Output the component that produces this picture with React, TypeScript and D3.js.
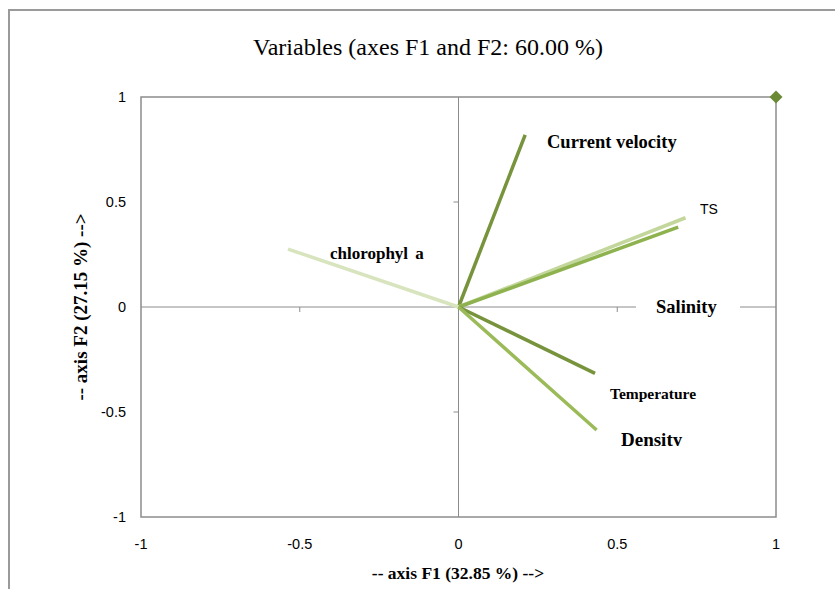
import React, { useRef, useEffect } from "react";
import * as d3 from "d3";

// loadings on F1 / F2
const variables = ["Current velocity", "TS", "Salinity", "chlorophyl a", "Temperature", "Density"];
const f1 = [0.21, 0.715, 0.692, -0.537, 0.43, 0.435];
const f2 = [0.82, 0.425, 0.38, 0.276, -0.316, -0.586];
const colors = ["#77933C", "#C3D69B", "#8DB24E", "#D7E4BD", "#77933C", "#9BBB59"];
const ticks = [-1, -0.5, 0, 0.5, 1];
const tickLabels = ["-1", "-0.5", "0", "0.5", "1"];

const App = () => {
  const svgRef = useRef<SVGSVGElement>(null);

  useEffect(() => {
    const width = 835;
    const height = 589;
    const svg = d3.select(svgRef.current);
    svg.selectAll("*").remove();

    const x = d3.scaleLinear().domain([-1, 1]).range([141, 776]);
    const y = d3.scaleLinear().domain([-1, 1]).range([517, 97]);
    const grey = "#8c8c8c";
    const serif = "'Liberation Serif', 'Times New Roman', serif";
    const sans = "'Liberation Sans', Arial, sans-serif";

    svg.append("rect").attr("width", width).attr("height", height).attr("fill", "white");

    // outer chart border
    svg.append("rect")
      .attr("x", 9).attr("y", 10)
      .attr("width", width + 10).attr("height", height + 10)
      .attr("fill", "none").attr("stroke", "#9a9a9a").attr("stroke-width", 2);

    svg.append("text")
      .attr("x", 428).attr("y", 55)
      .attr("text-anchor", "middle")
      .style("font-family", serif)
      .style("font-size", "24px")
      .text("Variables (axes F1 and F2: 60.00 %)");

    // plot frame
    svg.append("rect")
      .attr("x", x(-1)).attr("y", y(1))
      .attr("width", x(1) - x(-1)).attr("height", y(-1) - y(1))
      .attr("fill", "none").attr("stroke", grey).attr("stroke-width", 1.5);

    // zero lines with ticks
    svg.append("line")
      .attr("x1", x(-1)).attr("x2", x(1)).attr("y1", y(0)).attr("y2", y(0))
      .attr("stroke", grey).attr("stroke-width", 1);
    svg.append("line")
      .attr("x1", x(0)).attr("x2", x(0)).attr("y1", y(1)).attr("y2", y(-1))
      .attr("stroke", grey).attr("stroke-width", 1);

    svg.selectAll(".xt")
      .data([-0.5, 0.5])
      .enter().append("line")
      .attr("x1", d => x(d)).attr("x2", d => x(d))
      .attr("y1", y(0)).attr("y2", y(0) + 5)
      .attr("stroke", grey);
    svg.selectAll(".yt")
      .data([-0.5, 0.5])
      .enter().append("line")
      .attr("x1", x(0) - 5).attr("x2", x(0))
      .attr("y1", d => y(d)).attr("y2", d => y(d))
      .attr("stroke", grey);

    svg.selectAll(".xl")
      .data(ticks)
      .enter().append("text")
      .attr("x", d => x(d)).attr("y", 549)
      .attr("text-anchor", "middle")
      .style("font-family", sans).style("font-size", "14.5px")
      .text((d, i) => tickLabels[i]);
    svg.selectAll(".yl")
      .data(ticks)
      .enter().append("text")
      .attr("x", 126).attr("y", d => y(d) + 5)
      .attr("text-anchor", "end")
      .style("font-family", sans).style("font-size", "14.5px")
      .text((d, i) => tickLabels[i]);

    svg.append("text")
      .attr("x", 458).attr("y", 579)
      .attr("text-anchor", "middle")
      .style("font-family", serif)
      .style("font-weight", "bold").style("font-size", "17.5px")
      .text("-- axis F1 (32.85 %) -->");
    svg.append("text")
      .attr("transform", `translate(87, ${y(0)}) rotate(-90)`)
      .attr("text-anchor", "middle")
      .style("font-family", serif)
      .style("font-weight", "bold").style("font-size", "19px")
      .text("-- axis F2 (27.15 %) -->");

    // vectors
    svg.selectAll(".vec")
      .data(variables)
      .enter().append("line")
      .attr("x1", x(0)).attr("y1", y(0))
      .attr("x2", (d, i) => x(f1[i])).attr("y2", (d, i) => y(f2[i]))
      .attr("stroke", (d, i) => colors[i])
      .attr("stroke-width", 3.5);

    // labels
    const lab = (t: string, lx: number, ly: number, size: number, bold: boolean, font: string) =>
      svg.append("text")
        .attr("x", lx).attr("y", ly)
        .style("font-family", font)
        .style("font-weight", bold ? "bold" : "normal")
        .style("font-size", `${size}px`)
        .text(t);

    svg.append("rect")
      .attr("x", 636).attr("y", 296).attr("width", 104).attr("height", 22)
      .attr("fill", "white");

    svg.append("clipPath").attr("id", "densClip")
      .append("rect").attr("x", 600).attr("y", 420).attr("width", 120).attr("height", 26);

    lab(variables[0], 547, 148, 18.5, true, serif);
    lab(variables[1], 700, 214, 14, false, sans);
    lab(variables[2], 656, 313, 18.5, true, serif);
    lab(variables[3], 330, 259, 17, true, serif).style("word-spacing", "3px");
    lab(variables[4], 610, 399, 15.5, true, serif);
    lab(variables[5], 621, 446, 19, true, serif).attr("clip-path", "url(#densClip)");

    // point at (1,1)
    svg.append("path")
      .attr("d", d3.symbol().type(d3.symbolSquare).size(85)())
      .attr("transform", `translate(${x(1)}, ${y(1)}) rotate(45)`)
      .attr("fill", "#6B8A35");
  }, []);

  return (
    <svg
      ref={svgRef}
      width={835}
      height={589}
      style={{ position: "absolute", left: 0, top: 0 }}
    ></svg>
  );
};

export default App;
